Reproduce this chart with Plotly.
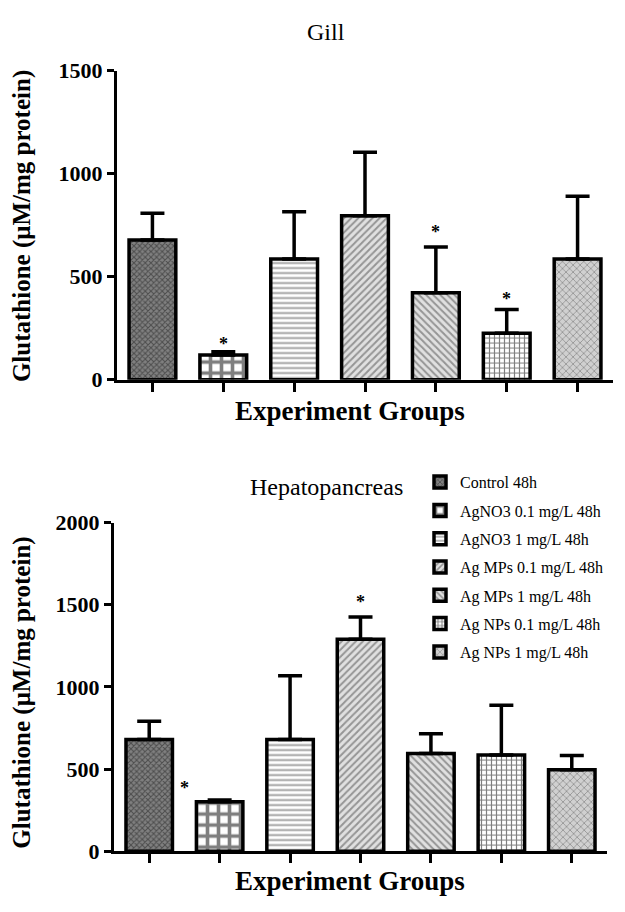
import plotly.graph_objects as go

# ---------------- data ----------------
groups = ["Control 48h", "AgNO3 0.1 mg/L 48h", "AgNO3 1 mg/L 48h",
          "Ag MPs 0.1 mg/L 48h", "Ag MPs 1 mg/L 48h",
          "Ag NPs 0.1 mg/L 48h", "Ag NPs 1 mg/L 48h"]

gill_mean = [678, 120, 585, 795, 422, 225, 585]
gill_err = [130, 15, 230, 308, 222, 115, 305]

hep_mean = [680, 300, 680, 1290, 595, 585, 495]
hep_err = [110, 12, 388, 135, 120, 303, 87]

gill_star_x = [1, 4, 5]
gill_star_y = [175, 715, 390]
hep_star_x = [0.5, 3]
hep_star_y = [385, 1515]

gill_ticks = [0, 500, 1000, 1500]
hep_ticks = [0, 500, 1000, 1500, 2000]

# ---------------- layout helpers ----------------
# The page body has an 8px margin; size the figure so the page is exactly 625x912.
PAGE_W, PAGE_H = 625, 912
OFF = 8
W, H = PAGE_W - 2 * OFF, PAGE_H - 2 * OFF


def px(x):
    return (x - OFF) / W


def py(y):
    return 1 - (y - OFF) / H


SERIF = "Liberation Serif"

patterns = [
    dict(shape="x", fgcolor="#1a1a1a", bgcolor="#808080", size=4, solidity=0.45),
    dict(shape="+", fgcolor="#000000", bgcolor="#ffffff", size=11, solidity=0.55),
    dict(shape="-", fgcolor="#333333", bgcolor="#ffffff", size=5, solidity=0.35),
    dict(shape="/", fgcolor="#4a4a4a", bgcolor="#e0e0e0", size=5, solidity=0.4),
    dict(shape="\\", fgcolor="#4a4a4a", bgcolor="#e0e0e0", size=5, solidity=0.4),
    dict(shape="+", fgcolor="#000000", bgcolor="#ffffff", size=5, solidity=0.42),
    dict(shape="x", fgcolor="#555555", bgcolor="#d0d0d0", size=5, solidity=0.3),
]

fig = go.Figure()
xs = list(range(len(groups)))

for i, g in enumerate(groups):
    for (means, errs, xa, ya, show) in [(gill_mean, gill_err, "x", "y", False),
                                       (hep_mean, hep_err, "x2", "y2", True)]:
        fig.add_trace(go.Bar(
            x=[xs[i]], y=[means[i]], name=g, width=0.66,
            xaxis=xa, yaxis=ya, showlegend=show, legendgroup=g,
            marker=dict(color=patterns[i]["bgcolor"], pattern=patterns[i],
                        line=dict(color="black", width=3.5)),
            error_y=dict(type="data", array=[errs[i]], arrayminus=[0],
                         symmetric=False, color="black", thickness=3.5, width=12),
        ))

axis_common = dict(showline=True, linecolor="black", linewidth=3,
                   ticks="outside", tickwidth=3, tickcolor="black",
                   showgrid=False, zeroline=False)
tickfont = dict(family=SERIF, size=22, weight="bold", color="black")

fig.update_layout(
    width=W, height=H,
    margin=dict(l=0, r=0, t=0, b=0),
    paper_bgcolor="white", plot_bgcolor="white",
    barmode="overlay",
    font=dict(family=SERIF, color="black"),
    xaxis=dict(domain=[px(117), px(613)], anchor="y", range=[-0.5, 6.5],
               tickvals=xs, showticklabels=False, ticklen=9, **axis_common),
    yaxis=dict(domain=[py(378), py(60)], anchor="x", range=[0, 1500],
               tickvals=gill_ticks, tickfont=tickfont, ticklen=7,
               **axis_common),
    xaxis2=dict(domain=[px(114), px(607)], anchor="y2", range=[-0.5, 6.5],
                tickvals=xs, showticklabels=False, ticklen=9, **axis_common),
    yaxis2=dict(domain=[py(863), py(525)], anchor="x2", range=[0, 2000],
                tickvals=hep_ticks, tickfont=tickfont, ticklen=7,
                **axis_common),
    legend=dict(x=px(420), y=py(466), xanchor="left", yanchor="top",
                font=dict(family=SERIF, size=16, color="black"),
                traceorder="grouped", tracegroupgap=4.5,
                bgcolor="rgba(0,0,0,0)"),
)

ann = []


def text_at(text, x, y, size, bold=False, angle=0):
    f = dict(family=SERIF, size=size, color="black")
    if bold:
        f["weight"] = "bold"
    ann.append(dict(text=text, x=px(x), y=py(y), xref="paper", yref="paper",
                    xanchor="center", yanchor="middle", showarrow=False,
                    textangle=angle, font=f))


text_at("Gill", 326, 20, 24)
text_at("Hepatopancreas", 326, 488, 24)
text_at("Glutathione (μM/mg protein)", 22, 220, 25, bold=True, angle=-90)
text_at("Glutathione (μM/mg protein)", 22, 700, 25, bold=True, angle=-90)
text_at("Experiment Groups", 350, 410, 27, bold=True)
text_at("Experiment Groups", 350, 894, 27, bold=True)

for sx, sy in zip(gill_star_x, gill_star_y):
    ann.append(dict(text="*", x=sx, y=sy, xref="x", yref="y", showarrow=False,
                    font=dict(family=SERIF, size=18, weight="bold")))
for sx, sy in zip(hep_star_x, hep_star_y):
    ann.append(dict(text="*", x=sx, y=sy, xref="x2", yref="y2", showarrow=False,
                    font=dict(family=SERIF, size=18, weight="bold")))

fig.update_layout(annotations=ann)

fig.write_html("out.html")
